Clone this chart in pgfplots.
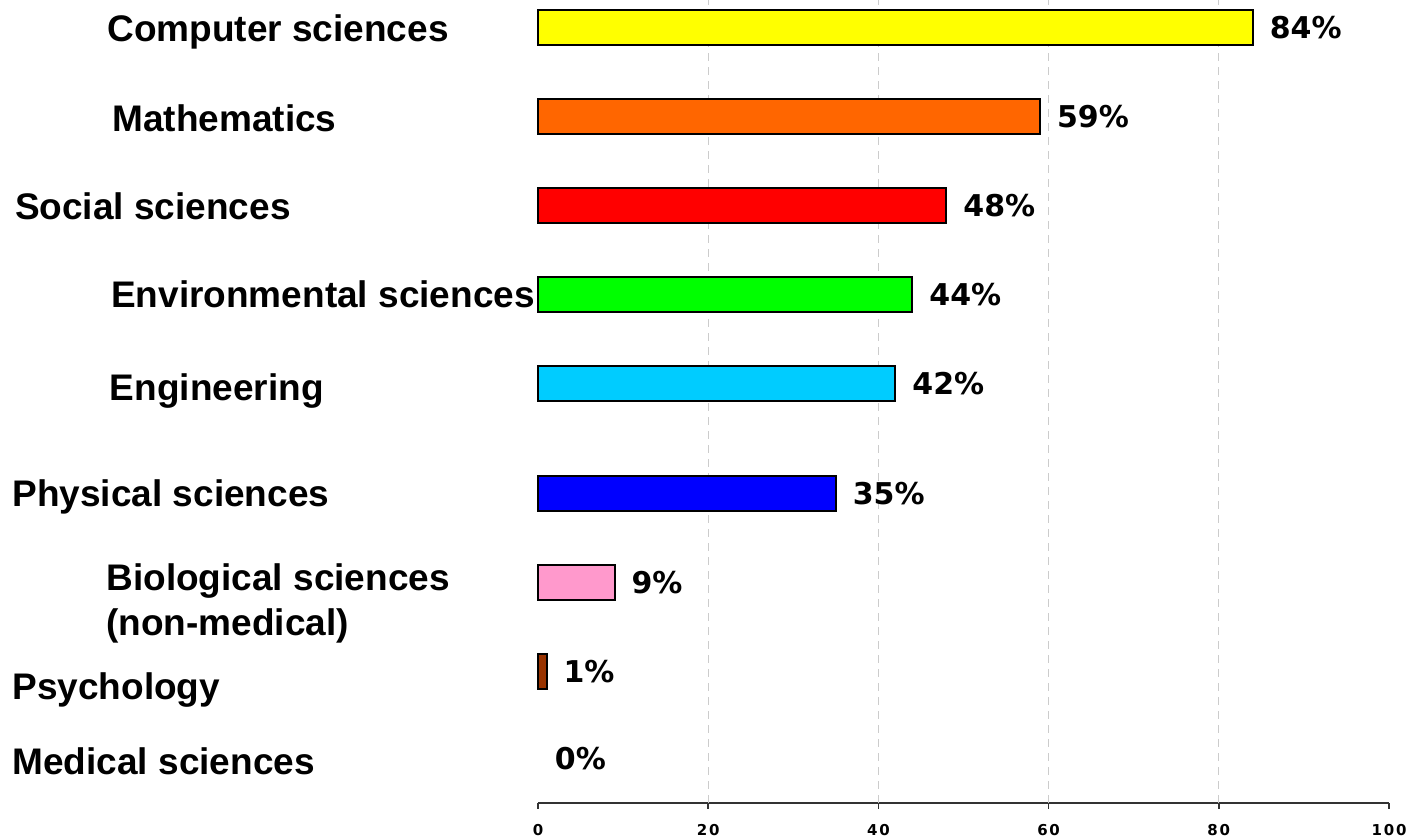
\documentclass[border=0pt]{standalone}
\usepackage{pgfplots}
\pgfplotsset{compat=1.18}
\usepackage{fontspec}
\setmainfont{Liberation Sans}
\newfontfamily\pctfont{DejaVu Sans}
\newfontfamily\tickfont[LetterSpace=12]{DejaVu Sans}

\definecolor{cYellow}{HTML}{FFFF00}
\definecolor{cOrange}{HTML}{FF6600}
\definecolor{cRed}{HTML}{FF0000}
\definecolor{cGreen}{HTML}{00FF00}
\definecolor{cCyan}{HTML}{00CCFF}
\definecolor{cBlue}{HTML}{0000FF}
\definecolor{cPink}{HTML}{FF99CC}
\definecolor{cBrown}{HTML}{993300}

\begin{document}
\begin{tikzpicture}
\useasboundingbox (0,0) rectangle (705pt,420pt);
\begin{axis}[
  at={(269pt,18.5pt)}, anchor=south west,
  scale only axis,
  width=425.5pt, height=401.5pt,
  xmin=0, xmax=100, ymin=-803, ymax=0,
  axis x line*=bottom, axis y line=none,
  x axis line style={black!80, line width=0.7pt},
  xtick={0,20,40,60,80,100},
  ytick=\empty,
  tick align=outside,
  major tick length=2.8pt,
  xtick style={black!80, line width=0.7pt},
  /pgf/number format/assume math mode=true,
  xticklabel style={font=\tickfont\fontsize{7.5}{8.5}\selectfont\bfseries,
    inner sep=0pt, anchor=north, yshift=-7.6pt},
  extra x ticks={20,40,60,80},
  extra x tick labels={},
  extra x tick style={grid=major, major tick length=0pt},
  major grid style={gray!40, line width=0.5pt, dash pattern=on 4pt off 3pt},
  clip=false,
  xbar, bar shift=0pt, bar width=17.5pt,
  point meta=x,
  nodes near coords={\pgfmathprintnumber{\pgfplotspointmeta}\%},
  every node near coord/.append style={anchor=west, inner sep=0pt, xshift=8pt,
    font=\fontsize{15}{17}\selectfont\pctfont\bfseries, text=black},
  every axis plot/.append style={draw=black, line width=1pt},
]
% one bar per field, centred at its row position
\addplot[fill=cYellow] coordinates {(84,-28)};
\addplot[fill=cOrange] coordinates {(59,-116.5)};
\addplot[fill=cRed]    coordinates {(48,-206)};
\addplot[fill=cGreen]  coordinates {(44,-295)};
\addplot[fill=cCyan]   coordinates {(42,-384)};
\addplot[fill=cBlue]   coordinates {(35,-494)};
\addplot[fill=cPink]   coordinates {(9,-583)};
\addplot[fill=cBrown]  coordinates {(1,-672)};
\addplot[draw=none, fill=none] coordinates {(0,-759)};

% field names
\begin{scope}[every node/.style={anchor=base west, inner sep=0pt,
    font=\fontsize{18.5}{22}\selectfont\bfseries}]
\node at (axis cs:-50.65,-41.5) {Computer sciences};
\node at (axis cs:-50.06,-132) {Mathematics};
\node at (axis cs:-61.5,-220) {Social sciences};
\node at (axis cs:-50.2,-308) {Environmental sciences};
\node at (axis cs:-50.35,-401) {Engineering};
\node at (axis cs:-61.8,-507) {Physical sciences};
\node at (axis cs:-50.76,-591) {Biological sciences};
\node at (axis cs:-50.76,-636) {(non-medical)};
\node at (axis cs:-61.8,-700) {Psychology};
\node at (axis cs:-61.8,-775) {Medical sciences};
\end{scope}
\end{axis}
\end{tikzpicture}
\end{document}
